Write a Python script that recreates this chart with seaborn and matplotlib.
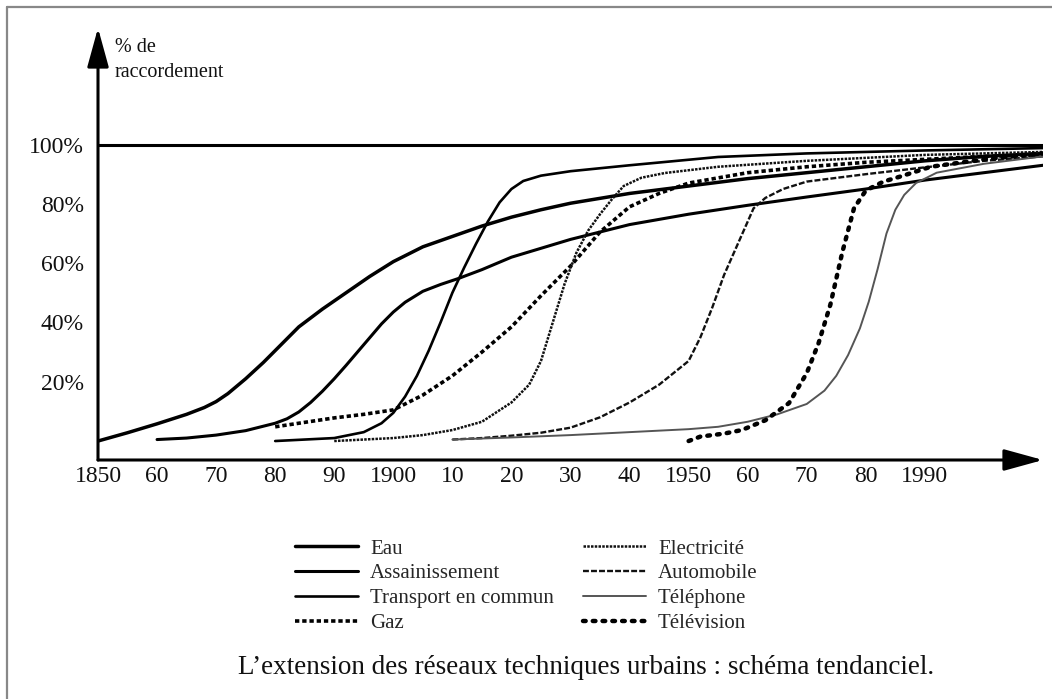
import numpy as np
import pandas as pd
import matplotlib
matplotlib.use('Agg')
import matplotlib.pyplot as plt
from matplotlib.lines import Line2D
import seaborn as sns

# values (year, % de raccordement)
annees_eau = [1850, 1855, 1860, 1865, 1868, 1870, 1872, 1875, 1878, 1880, 1884, 1888, 1892, 1896,
              1900, 1905, 1910, 1915, 1920, 1925, 1930, 1940, 1950, 1960, 1970, 1980, 1990, 2000, 2010]
pct_eau = [0, 2.8, 5.8, 9, 11.3, 13.3, 16, 21, 26.5, 30.5, 38.5, 44.5, 50, 55.5,
           60.5, 65.5, 69, 72.5, 75.5, 78, 80.2, 83.5, 86, 88.5, 90.5, 92.5, 94.5, 96, 97]

annees_assain = [1860, 1865, 1870, 1875, 1880, 1882, 1884, 1886, 1888, 1890, 1892, 1895, 1898,
                 1900, 1902, 1905, 1908, 1911, 1915, 1920, 1930, 1940, 1950, 1960, 1970, 1980,
                 1990, 2000, 2010]
pct_assain = [0.5, 1, 2, 3.5, 6, 7.5, 9.8, 13, 16.8, 21, 25.5, 32.5, 39.5,
              43.5, 46.8, 50.5, 52.8, 54.8, 57.8, 62, 68, 73, 76.5, 79.5, 82.3, 85,
              88, 90.5, 93]

annees_transport = [1880, 1890, 1895, 1898, 1900, 1902, 1904, 1906, 1908, 1910, 1912, 1914, 1916,
                    1918, 1920, 1922, 1925, 1930, 1940, 1955, 1970, 1990, 2010]
pct_transport = [0, 1, 3, 6, 9.5, 15, 22, 30.5, 40, 50, 58.5, 66.5, 74,
                 80.5, 85, 87.7, 89.5, 91, 93, 95.8, 97, 98, 98.8]

annees_gaz = [1880, 1885, 1890, 1895, 1900, 1905, 1910, 1915, 1920, 1925, 1930, 1935, 1940,
              1945, 1950, 1960, 1970, 1980, 1990, 2000, 2010]
pct_gaz = [4.8, 6.3, 7.8, 9, 10.5, 15.5, 22, 30, 38.5, 49, 59, 70.5, 79,
           83.5, 87, 90.5, 92.5, 94, 95, 96, 96.5]

annees_elec = [1890, 1900, 1905, 1910, 1915, 1920, 1923, 1925, 1927, 1929, 1931, 1933, 1935,
               1937, 1939, 1942, 1946, 1955, 1970, 1990, 2010]
pct_elec = [0, 1, 2, 3.7, 6.5, 13, 19, 27, 40, 53, 63.5, 71, 76.5,
            81.5, 86, 88.8, 90.4, 92.5, 94.5, 96.5, 97.5]

annees_auto = [1910, 1915, 1920, 1925, 1930, 1935, 1940, 1945, 1950, 1952, 1954, 1956, 1958,
               1960, 1961, 1963, 1966, 1970, 1980, 1990, 2000, 2010]
pct_auto = [0.5, 1, 1.8, 2.8, 4.5, 8, 13, 19, 27, 35, 45, 56, 65,
            74, 78.5, 82, 85, 87.5, 90, 92.3, 94.5, 96]

annees_tel = [1910, 1920, 1930, 1940, 1950, 1955, 1960, 1965, 1970, 1973, 1975, 1977, 1979,
              1980.5, 1982, 1983.5, 1985, 1986.5, 1988.5, 1992, 2000, 2010]
pct_tel = [0.5, 1.2, 2, 3, 4, 4.8, 6.5, 9, 12.5, 17, 22, 29, 38,
           47, 58, 70, 78, 83, 87, 90.5, 93.5, 96]

annees_tv = [1950, 1952, 1956, 1959, 1963, 1967, 1970, 1972, 1974, 1976, 1978, 1980, 1983,
             1986, 1991, 2000, 2010]
pct_tv = [0, 1.5, 2.5, 3.7, 7, 12.8, 22.9, 33, 46, 63.5, 78.5, 84.5, 87.5,
          89.3, 92.5, 95, 97]

x_ticks = [1850, 1860, 1870, 1880, 1890, 1900, 1910, 1920, 1930, 1940, 1950, 1960, 1970, 1980, 1990]
x_labels = ['1850', '60', '70', '80', '90', '1900', '10', '20', '30', '40', '1950', '60', '70', '80', '1990']
y_ticks = [20, 40, 60, 80, 100]
y_labels = ['20%', '40%', '60%', '80%', '100%']

series = [
    ('Eau', annees_eau, pct_eau, dict(lw=2.5, color='black', linestyle='-')),
    ('Assainissement', annees_assain, pct_assain, dict(lw=2.2, color='black', linestyle='-')),
    ('Transport en commun', annees_transport, pct_transport, dict(lw=1.9, color='black', linestyle='-')),
    ('Gaz', annees_gaz, pct_gaz, dict(lw=2.6, color='black', linestyle=(0, (1.2, 0.8)))),
    ('Electricité', annees_elec, pct_elec, dict(lw=1.8, color='#111111', linestyle=(0, (1, 0.5)))),
    ('Automobile', annees_auto, pct_auto, dict(lw=1.7, color='#111111', linestyle=(0, (2.5, 0.9)))),
    ('Téléphone', annees_tel, pct_tel, dict(lw=1.4, color='#555555', linestyle='-')),
    ('Télévision', annees_tv, pct_tv, dict(lw=3.2, color='black', linestyle=(0, (0.6, 1.6)),
                                           dash_capstyle='round')),
]

sns.set_theme(style='white')
plt.rcParams['font.family'] = ['Liberation Serif', 'DejaVu Serif']

fig = plt.figure(figsize=(10.52, 6.99), dpi=100)
fig.patch.set_facecolor('white')

# axes placed so that 1850..2010 and -6.4..139 % map onto the scan's frame
ax = fig.add_axes([98 / 1052, (699 - 460) / 699, 945 / 1052, 432 / 699])
ax.set_facecolor('white')
ax.set_xlim(1850, 2010)
ax.set_ylim(-6.4, 139.3)

ax.axhline(100, color='black', lw=2.2, zorder=2)

for name, xs, ys, style in series:
    df = pd.DataFrame({'annee': xs, 'pct': ys})
    sns.lineplot(data=df, x='annee', y='pct', ax=ax, label=name, **style)

if ax.get_legend() is not None:
    ax.get_legend().remove()

for sp in ax.spines.values():
    sp.set_visible(False)

# axes drawn as arrows
arrow = dict(arrowstyle='-|>,head_length=2.0,head_width=0.55', lw=2.2, color='black',
             shrinkA=0, shrinkB=0)
ax.annotate('', xy=(2010, -6.4), xytext=(1850, -6.4), arrowprops=arrow, annotation_clip=False)
ax.annotate('', xy=(1850, 139.3), xytext=(1850, -6.4), arrowprops=arrow, annotation_clip=False)

ax.set_xticks(x_ticks)
ax.set_xticklabels(x_labels)
ax.set_yticks(y_ticks)
ax.set_yticklabels(y_labels)
ax.tick_params(axis='both', direction='inout', length=13, width=1.8, color='black',
               labelsize=17, labelcolor='#111111')
ax.tick_params(axis='x', pad=-2.5)
ax.tick_params(axis='y', pad=3.5)
ax.set_xlabel('')
ax.set_ylabel('')
ax.grid(False)

fig.text(115 / 1052, 1 - 38 / 699, '% de\nraccordement', ha='left', va='top',
         fontsize=14.5, linespacing=1.45, color='#111111')

handles, labels = ax.get_legend_handles_labels()
fig.legend(handles, labels, ncol=2, loc='upper left',
           bbox_to_anchor=(295 / 1052, 1 - 539 / 699),
           frameon=False, fontsize=15, handlelength=3.0, handletextpad=0.6,
           columnspacing=1.4, labelspacing=0.25, borderpad=0, borderaxespad=0)

fig.text(586 / 1052, 1 - 667 / 699,
         "L\u2019extension des réseaux techniques urbains : schéma tendanciel.",
         ha='center', va='center', fontsize=19.5, color='#111111')

# scan frame (top and left edges)
fig.add_artist(Line2D([7 / 1052, 1], [1 - 7 / 699, 1 - 7 / 699], transform=fig.transFigure,
                      color='#888888', lw=1.6))
fig.add_artist(Line2D([7 / 1052, 7 / 1052], [0, 1 - 7 / 699], transform=fig.transFigure,
                      color='#888888', lw=1.6))

fig.savefig('out.png', dpi=100, facecolor='white')
